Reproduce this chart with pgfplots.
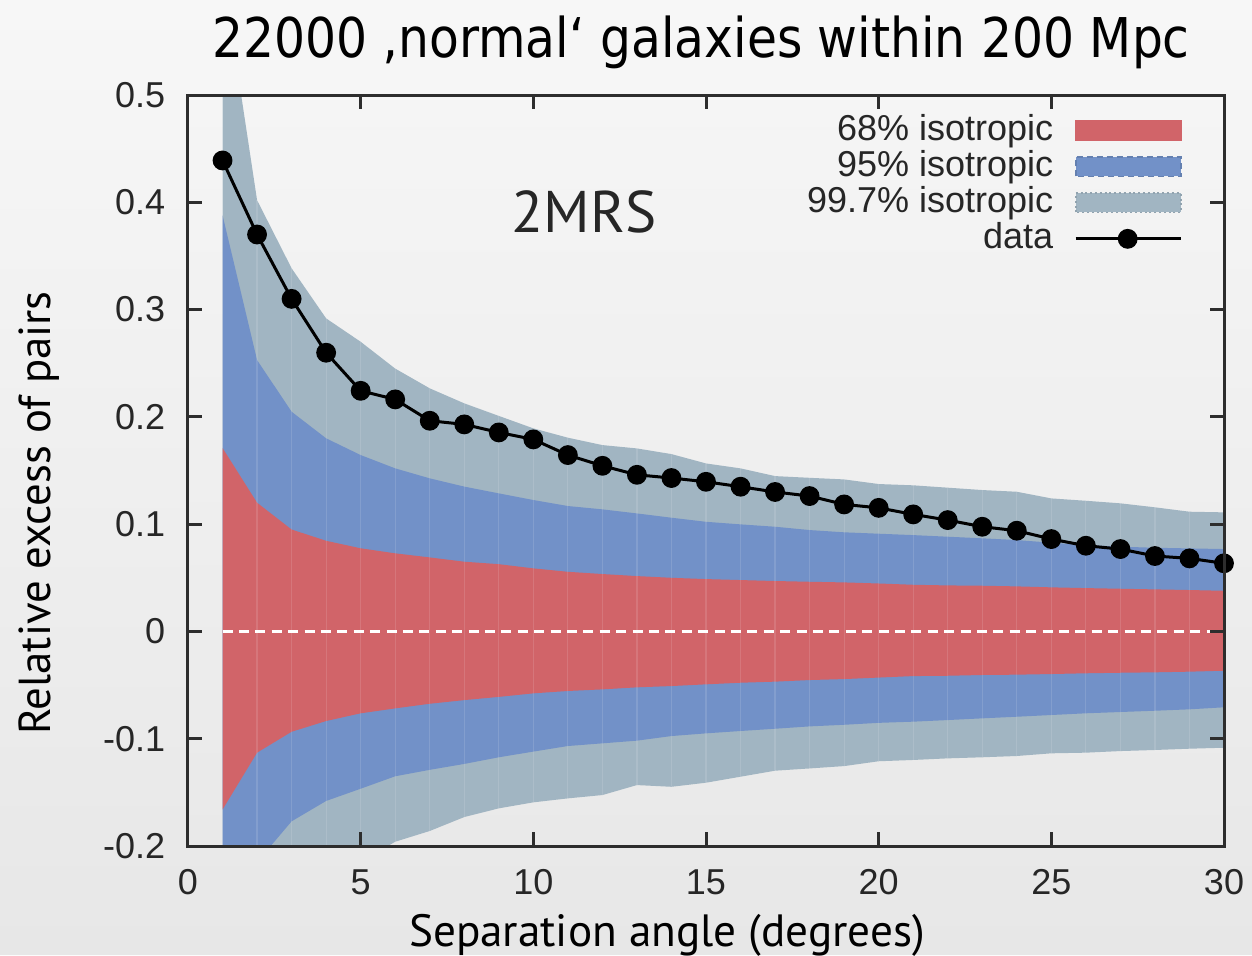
\documentclass[border=0pt]{standalone}
\usepackage{fontspec}
\usepackage{pgfplots}
\usepackage{pgfplotstable}
\pgfplotsset{compat=1.18}
\usepgfplotslibrary{fillbetween}
\setmainfont{Liberation Sans}
\newfontfamily\titlefont[FakeStretch=0.89]{DejaVu Sans}
\newfontfamily\labelfont{PT Sans}

\definecolor{cRed}{RGB}{209,100,105}
\definecolor{cBlue}{RGB}{114,145,200}
\definecolor{cGrey}{RGB}{161,181,194}
\definecolor{bgTop}{RGB}{247,247,247}
\definecolor{bgBot}{RGB}{231,231,231}
\definecolor{plotTop}{RGB}{245,245,245}
\definecolor{plotBot}{RGB}{233,233,233}
\definecolor{axisgrey}{RGB}{45,45,45}

% columns: separation angle, 99.7% / 95% / 68% lower bounds,
% 68% / 95% / 99.7% upper bounds, measured excess
\pgfplotstableread{
x  glo     blo     rlo     rhi     bhi     ghi     d
1  -0.450  -0.270  -0.166  0.171   0.388   0.615   0.439
2  -0.330  -0.215  -0.113  0.120   0.253   0.402   0.370
3  -0.270  -0.177  -0.0935 0.095   0.2048  0.3385  0.310
4  -0.235  -0.158  -0.0835 0.0845  0.180   0.2918  0.2598
5  -0.215  -0.1466 -0.0763 0.0775  0.1644  0.270   0.2243
6  -0.196  -0.135  -0.0717 0.0728  0.152   0.245   0.2163
7  -0.186  -0.129  -0.0674 0.069   0.1427  0.2266  0.1964
8  -0.173  -0.1235 -0.064  0.065   0.135   0.2126  0.193
9  -0.1649 -0.1173 -0.061  0.0627  0.1287  0.2009  0.1855
10 -0.1593 -0.112  -0.0577 0.0588  0.1225  0.1893  0.179
11 -0.1556 -0.1068 -0.0555 0.0556  0.1169  0.1806  0.1644
12 -0.1525 -0.1043 -0.054  0.0535  0.1138  0.1737  0.1544
13 -0.1432 -0.1018 -0.0521 0.0516  0.110   0.1706  0.146
14 -0.1448 -0.0975 -0.0509 0.050   0.106   0.1653  0.143
15 -0.141  -0.095  -0.0493 0.0488  0.1022  0.1566  0.1395
16 -0.1354 -0.0928 -0.0478 0.0479  0.0998  0.152   0.1349
17 -0.1298 -0.0907 -0.0468 0.047   0.0976  0.1448  0.130
18 -0.1277 -0.0885 -0.0453 0.0463  0.0945  0.1432  0.1262
19 -0.1255 -0.087  -0.0444 0.0457  0.0924  0.1417  0.1184
20 -0.121  -0.0852 -0.043  0.0447  0.0911  0.1374  0.1152
21 -0.1198 -0.0841 -0.0416 0.0435  0.0898  0.1362  0.1091
22 -0.1183 -0.0826 -0.0413 0.0429  0.0883  0.134   0.1038
23 -0.1173 -0.081  -0.0406 0.0426  0.0868  0.1318  0.0976
24 -0.1161 -0.0795 -0.0403 0.042   0.0852  0.1302  0.0939
25 -0.1136 -0.0779 -0.0397 0.0411  0.0827  0.124   0.0861
26 -0.113  -0.0763 -0.039  0.0404  0.0805  0.1218  0.0799
27 -0.1115 -0.0751 -0.0385 0.0398  0.079   0.1194  0.0768
28 -0.1105 -0.0739 -0.0381 0.0392  0.078   0.1157  0.0703
29 -0.1093 -0.0726 -0.0375 0.0386  0.0774  0.1116  0.0681
30 -0.1084 -0.0707 -0.0366 0.0379  0.0768  0.111   0.0635
}\pairs

\begin{document}
\begin{tikzpicture}
% page background around the plot area (the plot area gets its own shading)
\shade[top color=bgTop, bottom color=bgBot, even odd rule]
  (-47pt,-27.25pt) rectangle (266pt,211.5pt)
  (0pt,0pt) rectangle (259pt,187.75pt);

\begin{axis}[
  at={(0,0)}, anchor=south west,
  scale only axis,
  width=259pt, height=187.75pt,
  xmin=0, xmax=30, ymin=-0.2, ymax=0.5,
  xtick={0,5,...,30},
  ytick={-0.2,-0.1,0,0.1,0.2,0.3,0.4,0.5},
  axis background/.style={top color=plotTop, bottom color=plotBot},
  tick align=inside,
  major tick length=3.4pt,
  axis line style={axisgrey, line width=0.75pt},
  every tick/.style={axisgrey, line width=0.75pt},
  tick label style={font=\fontsize{9}{10}\selectfont, text=black!85},
  /pgf/number format/assume math mode=true,
  xticklabel style={anchor=base, yshift=-12.1pt, inner sep=0pt},
  yticklabel style={anchor=east, xshift=-5.5pt, inner sep=0pt},
  legend cell align=right,
  legend plot pos=right,
  legend style={
    draw=none, fill=none,
    at={(1,1)}, anchor=north east, xshift=-7.25pt, yshift=-2.25pt,
    font=\fontsize{9}{10}\selectfont,
    row sep=0pt, column sep=5.25pt,
    nodes={inner sep=0pt, minimum height=9pt, text=black!85},
  },
  axis on top,
]

\addplot[draw=none, name path=glo, forget plot] table[x=x, y=glo] {\pairs};
\addplot[draw=none, name path=ghi, forget plot] table[x=x, y=ghi] {\pairs};
\addplot[draw=none, name path=blo, forget plot] table[x=x, y=blo] {\pairs};
\addplot[draw=none, name path=bhi, forget plot] table[x=x, y=bhi] {\pairs};
\addplot[draw=none, name path=rlo, forget plot] table[x=x, y=rlo] {\pairs};
\addplot[draw=none, name path=rhi, forget plot] table[x=x, y=rhi] {\pairs};

\addplot[fill=cGrey, draw=none, forget plot] fill between[of=glo and ghi];
\addplot[fill=cBlue, draw=none, forget plot] fill between[of=blo and bhi];
\addplot[fill=cRed, draw=none, forget plot] fill between[of=rlo and rhi];

% faint seams between the band segments
\addplot[ycomb, draw=white, opacity=0.12, line width=0.3pt, forget plot]
  table[x=x, y=ghi] {\pairs};
\addplot[ycomb, draw=white, opacity=0.12, line width=0.3pt, forget plot]
  table[x=x, y=glo] {\pairs};

% zero line
\addplot[white, line width=0.75pt, dash pattern=on 2.5pt off 1.6pt, forget plot]
  coordinates {(1,0) (30,0)};

\addlegendimage{legend image code/.code={
  \fill[cRed] (0pt,-2.4pt) rectangle (26.25pt,2.4pt);}}
\addlegendentry{68\% isotropic}
\addlegendimage{legend image code/.code={
  \filldraw[fill=cBlue, draw=cBlue!88!black, line width=0.4pt, dash pattern=on 1.5pt off 1pt]
    (0pt,-2.4pt) rectangle (26.25pt,2.4pt);}}
\addlegendentry{95\% isotropic}
\addlegendimage{legend image code/.code={
  \filldraw[fill=cGrey, draw=cGrey!90!black, line width=0.4pt, dash pattern=on 0.5pt off 0.7pt]
    (0pt,-2.4pt) rectangle (26.25pt,2.4pt);}}
\addlegendentry{99.7\% isotropic}

\addplot[black, line width=0.75pt, mark=*, mark size=2.1pt,
  legend image code/.code={
    \draw[black, line width=0.75pt] (0pt,0pt) -- (26.25pt,0pt);
    \fill[black] (13pt,0pt) circle (2.1pt);}]
  table[x=x, y=d] {\pairs};
\addlegendentry{data}

\node[font=\labelfont\fontsize{14.7}{16}\selectfont, text=black!85] at (axis cs:11.47,0.391) {2MRS};
\end{axis}

\node[anchor=base, font=\titlefont\fontsize{13.7}{15}\selectfont] at (128.25pt,197pt)
  {22000 ‚normal‘ galaxies within 200 Mpc};
\node[anchor=base, font=\labelfont\fontsize{11.3}{13}\selectfont] at (119.75pt,-25pt)
  {Separation angle (degrees)};
\node[anchor=base, rotate=90, font=\labelfont\fontsize{11.2}{13}\selectfont] at (-34.25pt,83.25pt)
  {Relative excess of pairs};

\pgfresetboundingbox
\useasboundingbox (-47pt,-27.25pt) rectangle (266pt,211.5pt);
\end{tikzpicture}
\end{document}
